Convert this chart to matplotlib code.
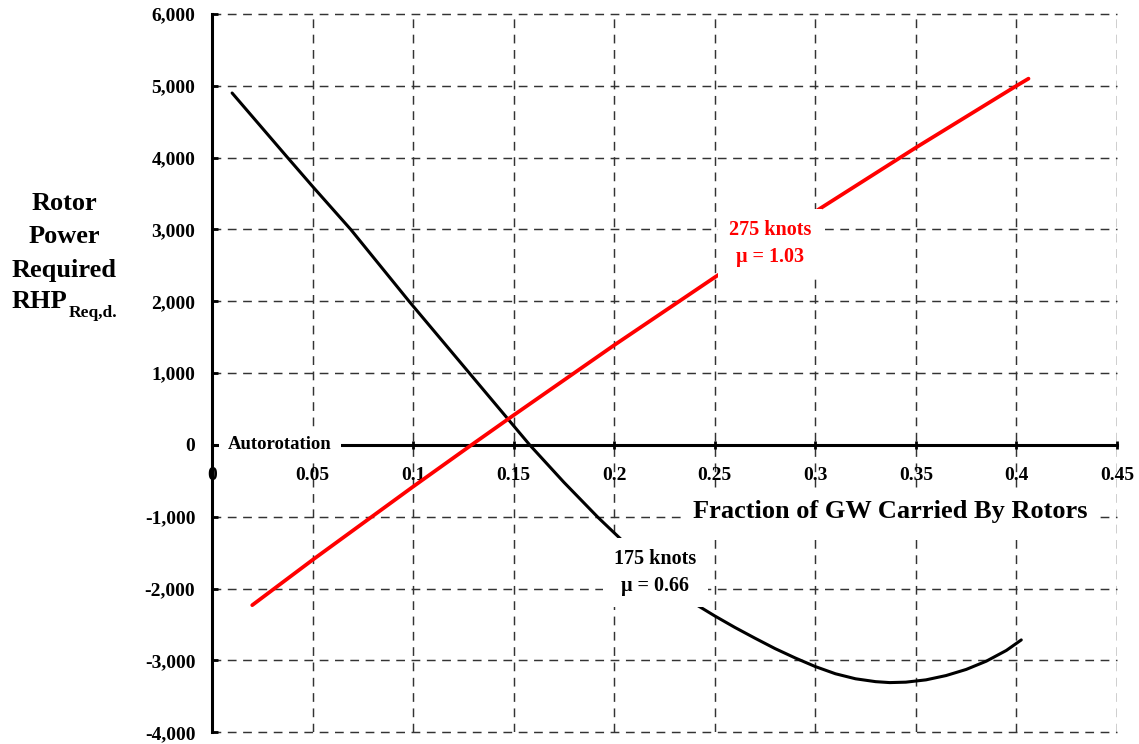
import matplotlib
matplotlib.use("Agg")
import matplotlib.pyplot as plt
from matplotlib.ticker import FuncFormatter, MultipleLocator

plt.rcParams["font.family"] = ["Liberation Serif", "DejaVu Serif"]
plt.rcParams["font.weight"] = "bold"

# Rotor power required vs. fraction of gross weight carried by the rotors
gw_fraction_175 = [0.010, 0.037, 0.050, 0.069, 0.098, 0.128, 0.158, 0.175, 0.192,
                   0.204, 0.215, 0.228, 0.241, 0.250, 0.260, 0.270, 0.280, 0.290,
                   0.300, 0.310, 0.320, 0.330, 0.337, 0.345, 0.355, 0.365, 0.375,
                   0.385, 0.395, 0.4024]
rhp_175 = [4900, 4020, 3600, 3000, 2000, 1000, 0, -520, -1010,
           -1330, -1620, -1930, -2227, -2380, -2540, -2690, -2835, -2965,
           -3085, -3185, -3255, -3295, -3308, -3302, -3270, -3210, -3125,
           -3010, -2860, -2714]

gw_fraction_275 = [0.020, 0.050, 0.100, 0.129, 0.150, 0.200, 0.250, 0.300, 0.350,
                   0.400, 0.406]
rhp_275 = [-2230, -1600, -580, 0, 415, 1390, 2335, 3250, 4140,
           5000, 5100]

label_175 = "175 knots\nμ = 0.66"
label_275 = "275 knots\nμ = 1.03"

fig = plt.figure(figsize=(11.39, 7.44), dpi=100)
ax = fig.add_axes([212 / 1139, 1 - 732.3 / 744, (1117 - 212) / 1139, (732.3 - 14) / 744])

ax.set_xlim(0, 0.45)
ax.set_ylim(-4000, 6000)
ax.xaxis.set_major_locator(MultipleLocator(0.05))
ax.yaxis.set_major_locator(MultipleLocator(1000))
ax.xaxis.set_major_formatter(FuncFormatter(lambda v, p: f"{v:.2f}".rstrip("0").rstrip(".") if v else "0"))
ax.yaxis.set_major_formatter(FuncFormatter(lambda v, p: f"{v:,.0f}".replace("\u2212", "-")))

ax.grid(True, color="#333333", linewidth=1.05, linestyle=(0, (6, 4.5)))
for gl in ax.get_xgridlines() + ax.get_ygridlines():
    gl.set_clip_on(False)
ax.set_axisbelow(True)

for side in ("top", "right"):
    ax.spines[side].set_visible(False)
ax.spines["left"].set_linewidth(2.2)
ax.spines["bottom"].set_linewidth(2.2)
ax.spines["bottom"].set_position(("data", 0))

ax.tick_params(axis="y", direction="in", length=4.5, width=2, pad=12, labelsize=14)
ax.tick_params(axis="x", direction="inout", length=6, width=2, pad=12.5, labelsize=14)
for lab in ax.get_xticklabels() + ax.get_yticklabels():
    lab.set_fontweight("bold")

ax.plot(gw_fraction_175, rhp_175, color="black", linewidth=2.2, solid_capstyle="round", zorder=3)
ax.plot(gw_fraction_275, rhp_275, color="#ff0000", linewidth=2.7, solid_capstyle="round", zorder=3)

box = dict(boxstyle="square,pad=0.55", facecolor="white", edgecolor="none")
ax.text(0.2205, -1780, label_175, ha="center", va="center", multialignment="center",
        fontsize=14.5, fontweight="bold", color="black", linespacing=1.45, bbox=box, zorder=5)
ax.text(0.2775, 2800, label_275, ha="center", va="center", multialignment="center",
        fontsize=14.5, fontweight="bold", color="#ff0000", linespacing=1.45, bbox=box, zorder=5)

ax.text(0.0079, 0, "Autorotation", ha="left", va="center", fontsize=13.5, fontweight="bold",
        bbox=dict(boxstyle="square,pad=0.5", facecolor="white", edgecolor="none"), zorder=4)

fig.text(890 / 1139, 1 - 518 / 744, "Fraction of GW Carried By Rotors", ha="center", va="baseline",
         fontsize=19, fontweight="bold",
         bbox=dict(boxstyle="square,pad=0.45", facecolor="white", edgecolor="none"))

ylab_x = 64 / 1139
for word, base in (("Rotor", 210), ("Power", 243), ("Required", 277)):
    fig.text(ylab_x, 1 - base / 744, word, ha="center", va="baseline", fontsize=19, fontweight="bold")
fig.text(67 / 1139, 1 - 308 / 744, "RHP", ha="right", va="baseline", fontsize=19, fontweight="bold")
fig.text(69 / 1139, 1 - 317 / 744, "Req,d.", ha="left", va="baseline", fontsize=12.5, fontweight="bold")

fig.savefig("out.png", dpi=100, facecolor="white")
